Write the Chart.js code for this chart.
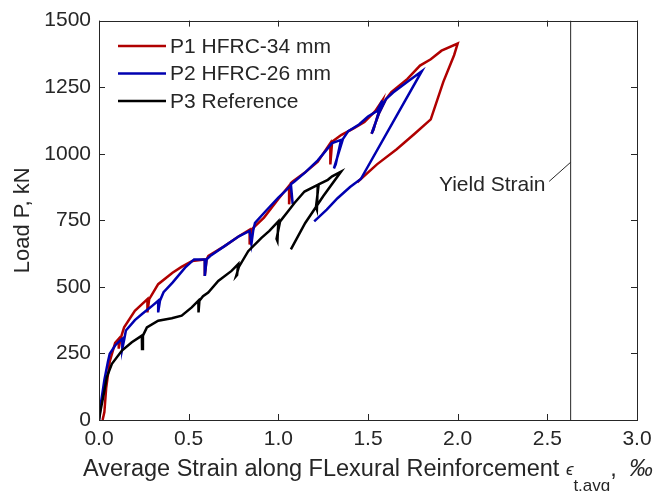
<!DOCTYPE html>
<html>
<head>
<meta charset="utf-8">
<script src="https://cdn.jsdelivr.net/npm/chart.js@4.4.0/dist/chart.umd.min.js"></script>
<style>
  html, body { margin: 0; padding: 0; background: #fff; }
</style>
</head>
<body>
<canvas id="chart" width="672" height="491"></canvas>
<script>
// P1 HFRC-34 mm
const p1Strain = [0.02,0.03,0.04,0.06,0.09,0.11,0.11,0.12,0.14,0.20,0.27,0.27,0.28,0.33,0.41,0.46,0.52,0.59,0.59,0.60,0.61,0.70,0.78,0.84,0.84,0.85,0.92,1.00,1.06,1.06,1.07,1.08,1.15,1.22,1.29,1.29,1.30,1.35,1.42,1.48,1.54,1.58,1.53,1.52,1.56,1.60,1.63,1.72,1.79,1.85,1.91,2.00,1.98,1.92,1.85,1.76,1.66,1.55,1.44];
const p1Load   = [0,30,120,220,290,305,268,305,348,410,454,404,454,510,553,575,597,603,541,603,616,653,690,715,659,715,760,830,880,810,890,896,930,970,1040,960,1045,1070,1095,1119,1160,1200,1090,1075,1150,1205,1231,1281,1331,1355,1387,1414,1370,1270,1129,1075,1017,960,893];
// P2 HFRC-26 mm
const p2Strain = [0,0.01,0.03,0.05,0.06,0.09,0.12,0.13,0.13,0.14,0.15,0.20,0.24,0.29,0.33,0.33,0.34,0.36,0.41,0.48,0.53,0.59,0.59,0.60,0.62,0.70,0.78,0.84,0.85,0.86,0.87,0.93,1.00,1.07,1.08,1.07,1.09,1.15,1.22,1.30,1.35,1.32,1.31,1.36,1.39,1.45,1.50,1.55,1.58,1.53,1.52,1.56,1.60,1.64,1.72,1.80,1.46,1.40,1.33,1.27,1.20];
const p2Load   = [0,60,150,220,249,280,300,305,268,300,336,375,398,425,448,404,448,480,516,572,603,603,541,603,616,653,690,710,662,712,740,785,835,880,812,885,896,930,975,1040,1052,960,945,1055,1085,1110,1140,1160,1200,1090,1075,1150,1205,1230,1270,1310,905,875,833,790,746];
// P3 Reference
const p3Strain = [0,0.01,0.03,0.044,0.072,0.128,0.183,0.239,0.24,0.245,0.267,0.33,0.406,0.461,0.517,0.554,0.555,0.56,0.58,0.609,0.665,0.739,0.776,0.77,0.765,0.78,0.832,0.906,0.95,1.0,0.995,0.99,1.01,1.05,1.09,1.146,1.22,1.215,1.21,1.225,1.276,1.30,1.35,1.25,1.15,1.07];
const p3Load   = [0,40,110,162,211,261,292,317,267,317,348,373,382,392,423,448,404,448,465,479,522,560,585,545,541,575,634,684,710,746,672,680,746,780,815,858,883,790,800,885,902,915,933,840,740,641];

const seriesNames = ['P1 HFRC-34 mm', 'P2 HFRC-26 mm', 'P3 Reference'];
const seriesColors = ['#b00000', '#0000b0', '#000000'];
const yieldStrain = 2.63;
const xTicks = [0, 0.5, 1.0, 1.5, 2.0, 2.5, 3.0];
const yTicks = [0, 250, 500, 750, 1000, 1250, 1500];

const FONT = '"Liberation Sans", Arial, Helvetica, sans-serif';
const INK = '#262626';

function pts(xs, ys) {
  return xs.map((x, i) => ({ x: x, y: ys[i] }));
}

// box, inward ticks, legend, yield note, x title
const frame = {
  id: 'frame',
  afterDatasetsDraw(chart) {
    const ctx = chart.ctx;
    const a = chart.chartArea;
    const xs = chart.scales.x, ys = chart.scales.y;
    ctx.save();
    ctx.strokeStyle = INK;
    ctx.lineWidth = 1;
    ctx.strokeRect(Math.round(a.left) + 0.5, Math.round(a.top) + 0.5,
      Math.round(a.right - a.left), Math.round(a.bottom - a.top));
    ctx.beginPath();
    xTicks.forEach(v => {
      const px = Math.round(xs.getPixelForValue(v)) + 0.5;
      ctx.moveTo(px, a.bottom); ctx.lineTo(px, a.bottom - 6);
      ctx.moveTo(px, a.top); ctx.lineTo(px, a.top + 6);
    });
    yTicks.forEach(v => {
      const py = Math.round(ys.getPixelForValue(v)) + 0.5;
      ctx.moveTo(a.left, py); ctx.lineTo(a.left + 6, py);
      ctx.moveTo(a.right, py); ctx.lineTo(a.right - 6, py);
    });
    ctx.stroke();

    // legend
    ctx.font = '21px ' + FONT;
    ctx.textBaseline = 'middle';
    ctx.textAlign = 'left';
    seriesNames.forEach((name, i) => {
      const y = 46 + i * 27.5;
      ctx.strokeStyle = seriesColors[i];
      ctx.lineWidth = 2.5;
      ctx.beginPath(); ctx.moveTo(118, y); ctx.lineTo(166, y); ctx.stroke();
      ctx.fillStyle = INK;
      ctx.fillText(name, 170, y + 1);
    });

    // yield strain note
    ctx.strokeStyle = INK;
    ctx.lineWidth = 1;
    ctx.beginPath();
    ctx.moveTo(xs.getPixelForValue(2.51), ys.getPixelForValue(896));
    ctx.lineTo(xs.getPixelForValue(yieldStrain), ys.getPixelForValue(968));
    ctx.stroke();
    ctx.textAlign = 'right';
    ctx.fillStyle = INK;
    ctx.font = '21px ' + FONT;
    ctx.fillText('Yield Strain', xs.getPixelForValue(2.49), ys.getPixelForValue(882));

    // x axis title
    ctx.textAlign = 'left';
    ctx.textBaseline = 'alphabetic';
    let x = 83;
    const base = 476;
    ctx.font = '23.5px ' + FONT;
    const main = 'Average Strain along FLexural Reinforcement ';
    ctx.fillText(main, x, base);
    x += ctx.measureText(main).width;
    ctx.font = 'italic 17px ' + FONT;
    ctx.fillText('\u03f5', x, base - 1);
    x += ctx.measureText('\u03f5').width;
    ctx.font = '17px ' + FONT;
    ctx.fillText('t,avg', x, base + 15);
    x += ctx.measureText('t,avg').width;
    ctx.font = '23.5px ' + FONT;
    ctx.fillText(', ', x, base);
    x += ctx.measureText(', ').width + 6;
    ctx.font = 'italic 23.5px ' + FONT;
    ctx.fillText('\u2030', x, base);
    ctx.restore();
  }
};

const lineSet = (label, data, color, order) => ({
  label: label,
  data: data,
  borderColor: color,
  backgroundColor: color,
  borderWidth: 2.5,
  pointRadius: 0,
  showLine: true,
  tension: 0,
  order: order
});

new Chart(document.getElementById('chart'), {
  type: 'scatter',
  data: {
    datasets: [
      lineSet(seriesNames[0], pts(p1Strain, p1Load), seriesColors[0], 3),
      lineSet(seriesNames[1], pts(p2Strain, p2Load), seriesColors[1], 2),
      lineSet(seriesNames[2], pts(p3Strain, p3Load), seriesColors[2], 1),
      {
        label: 'Yield Strain',
        data: [{ x: yieldStrain, y: 0 }, { x: yieldStrain, y: 1500 }],
        borderColor: INK,
        borderWidth: 1,
        pointRadius: 0,
        showLine: true,
        order: 0
      }
    ]
  },
  options: {
    responsive: false,
    animation: false,
    layout: { padding: { top: 17, right: 35, left: 0, bottom: 0 } },
    plugins: { legend: { display: false }, tooltip: { enabled: false } },
    scales: {
      x: {
        type: 'linear',
        min: 0, max: 3,
        afterBuildTicks: s => { s.ticks = xTicks.map(v => ({ value: v })); },
        afterFit: s => { s.height = 71; },
        grid: { display: false, drawTicks: false },
        border: { display: false },
        ticks: {
          padding: 7,
          color: INK,
          font: { family: FONT, size: 21 },
          maxRotation: 0,
          callback: v => v.toFixed(1)
        }
      },
      y: {
        min: 0, max: 1500,
        afterBuildTicks: s => { s.ticks = yTicks.map(v => ({ value: v })); },
        afterFit: s => { s.width = 99; },
        grid: { display: false, drawTicks: false },
        border: { display: false },
        ticks: {
          padding: 8,
          color: INK,
          font: { family: FONT, size: 21 },
          callback: v => String(v)
        },
        title: {
          display: true,
          text: 'Load P, kN',
          color: INK,
          font: { family: FONT, size: 22 },
          padding: { top: 10, bottom: 0 }
        }
      }
    }
  },
  plugins: [frame]
});
</script>
</body>
</html>
